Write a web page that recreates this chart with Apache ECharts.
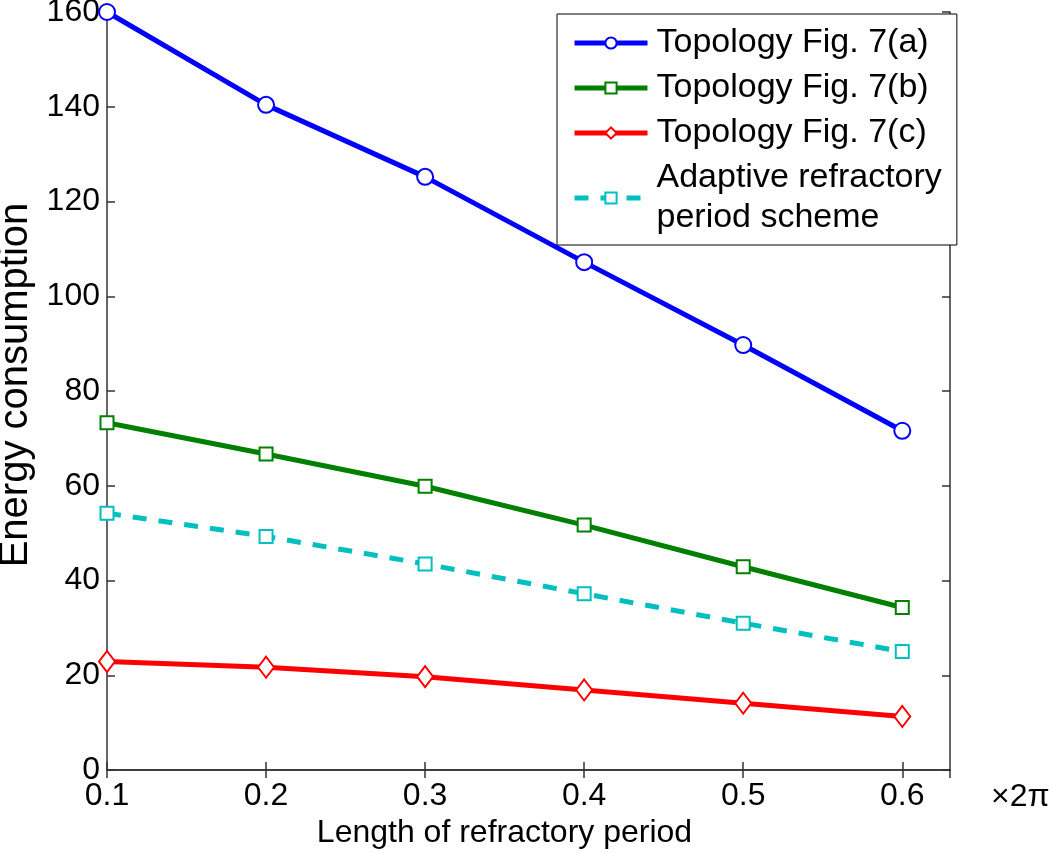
<!DOCTYPE html>
<html>
<head>
<meta charset="utf-8">
<script src="https://cdn.jsdelivr.net/npm/echarts@6/dist/echarts.min.js"></script>
<style>
html,body{margin:0;padding:0;background:#fff;}
#chart{width:1050px;height:853px;}
</style>
</head>
<body>
<div id="chart"></div>
<script>
var refractoryLength = [0.1, 0.2, 0.3, 0.4, 0.5, 0.6];
var topologyA = [160.0, 140.4, 125.2, 107.2, 89.7, 71.6];
var topologyB = [73.3, 66.7, 59.9, 51.7, 42.9, 34.3];
var topologyC = [22.9, 21.7, 19.7, 16.9, 14.1, 11.3];
var adaptiveScheme = [54.2, 49.3, 43.5, 37.2, 31.0, 25.0];
var seriesNames = ['Topology Fig. 7(a)', 'Topology Fig. 7(b)', 'Topology Fig. 7(c)', 'Adaptive refractory\nperiod scheme'];
var xTickLabels = ['0.1', '0.2', '0.3', '0.4', '0.5', '0.6'];
var yTickLabels = ['0', '20', '40', '60', '80', '100', '120', '140', '160'];
var xUnitText = '\u00d72\u03c0';
var xAxisTitle = 'Length of refractory period';
var yAxisTitle = 'Energy consumption';

var FONT = '"Liberation Sans", Arial, Helvetica, sans-serif';
var AXIS_COLOR = '#333';

function pairs(ys) {
  return refractoryLength.map(function (x, i) { return [x, ys[i]]; });
}

var chart = echarts.init(document.getElementById('chart'), null, {renderer: 'canvas'});

var baseAxisLine = {show: true, lineStyle: {color: AXIS_COLOR, width: 1.5}};
var baseTick = {show: true, inside: true, length: 8, lineStyle: {color: AXIS_COLOR, width: 1.5}};

function xFormatter(v) {
  var s = (Math.round(v * 10) / 10).toFixed(1);
  return (Math.abs(v * 10 - Math.round(v * 10)) < 1e-6 && xTickLabels.indexOf(s) >= 0) ? s : '';
}
function yFormatter(v) {
  var s = String(Math.round(v));
  return yTickLabels.indexOf(s) >= 0 ? s : '';
}

var option = {
  animation: false,
  backgroundColor: '#ffffff',
  textStyle: {fontFamily: FONT},
  grid: {left: 107, right: 100, top: 12, bottom: 83, containLabel: false, outerBoundsMode: 'none'},
  legend: {
    show: true,
    left: 557,
    top: 14,
    orient: 'vertical',
    padding: [9, 15, 7, 15],
    itemGap: 5,
    itemWidth: 73,
    itemHeight: 14,
    backgroundColor: '#ffffff',
    borderColor: '#000000',
    borderWidth: 1,
    borderRadius: 0,
    lineStyle: {width: 5},
    textStyle: {fontFamily: FONT, fontSize: 34, color: '#000', lineHeight: 40, padding: [0, 0, 0, 4]},
    data: seriesNames
  },
  xAxis: [{
    type: 'value',
    position: 'bottom',
    min: 0.1,
    max: 0.63,
    interval: 0.1,
    axisLine: baseAxisLine,
    axisTick: baseTick,
    splitLine: {show: false},
    axisLabel: {show: true, fontFamily: FONT, fontSize: 32, color: '#000', margin: 10,
      showMaxLabel: false, formatter: xFormatter},
    name: xAxisTitle,
    nameLocation: 'middle',
    nameGap: 44,
    nameTextStyle: {fontFamily: FONT, fontSize: 32, color: '#000', padding: [0, 48, 0, 0]}
  }, {
    type: 'value',
    position: 'top',
    min: 0.1,
    max: 0.63,
    interval: 0.1,
    axisLine: baseAxisLine,
    axisTick: baseTick,
    splitLine: {show: false},
    axisLabel: {show: false}
  }],
  yAxis: [{
    type: 'value',
    position: 'left',
    min: 0,
    max: 160,
    interval: 20,
    axisLine: baseAxisLine,
    axisTick: baseTick,
    splitLine: {show: false},
    axisLabel: {show: true, fontFamily: FONT, fontSize: 32, color: '#000', margin: 7, formatter: yFormatter},
    name: yAxisTitle,
    nameLocation: 'middle',
    nameGap: 64,
    nameTextStyle: {fontFamily: FONT, fontSize: 40, color: '#000', padding: [0, 0, 0, 12]}
  }, {
    type: 'value',
    position: 'right',
    min: 0,
    max: 160,
    interval: 20,
    axisLine: baseAxisLine,
    axisTick: baseTick,
    splitLine: {show: false},
    axisLabel: {show: false}
  }],
  graphic: [{
    type: 'text',
    left: 991,
    top: 781,
    style: {text: xUnitText, fontFamily: FONT, fontSize: 32, fill: '#000'}
  }],
  series: [{
    name: seriesNames[0],
    type: 'line',
    xAxisIndex: 0, yAxisIndex: 0,
    data: pairs(topologyA),
    clip: false,
    symbol: 'emptyCircle',
    symbolSize: 16,
    color: '#0000ff',
    lineStyle: {color: '#0000ff', width: 5},
    itemStyle: {color: '#0000ff', borderColor: '#0000ff', borderWidth: 4.5},
    z: 5
  }, {
    name: seriesNames[1],
    type: 'line',
    xAxisIndex: 0, yAxisIndex: 0,
    data: pairs(topologyB),
    clip: false,
    symbol: 'emptyRect',
    symbolSize: 13,
    color: '#008000',
    lineStyle: {color: '#008000', width: 5},
    itemStyle: {color: '#008000', borderColor: '#008000', borderWidth: 4.5},
    z: 4
  }, {
    name: seriesNames[2],
    type: 'line',
    xAxisIndex: 0, yAxisIndex: 0,
    data: pairs(topologyC),
    clip: false,
    symbol: 'emptyDiamond',
    symbolSize: [16, 21],
    color: '#ff0000',
    lineStyle: {color: '#ff0000', width: 5},
    itemStyle: {color: '#ff0000', borderColor: '#ff0000', borderWidth: 4.5},
    z: 3
  }, {
    name: seriesNames[3],
    type: 'line',
    xAxisIndex: 0, yAxisIndex: 0,
    data: pairs(adaptiveScheme),
    clip: false,
    symbol: 'emptyRect',
    symbolSize: 13,
    color: '#00bfbf',
    lineStyle: {color: '#00bfbf', width: 5, type: [14, 12]},
    itemStyle: {color: '#00bfbf', borderColor: '#00bfbf', borderWidth: 4.5},
    z: 2
  }]
};

chart.setOption(option);
</script>
</body>
</html>
